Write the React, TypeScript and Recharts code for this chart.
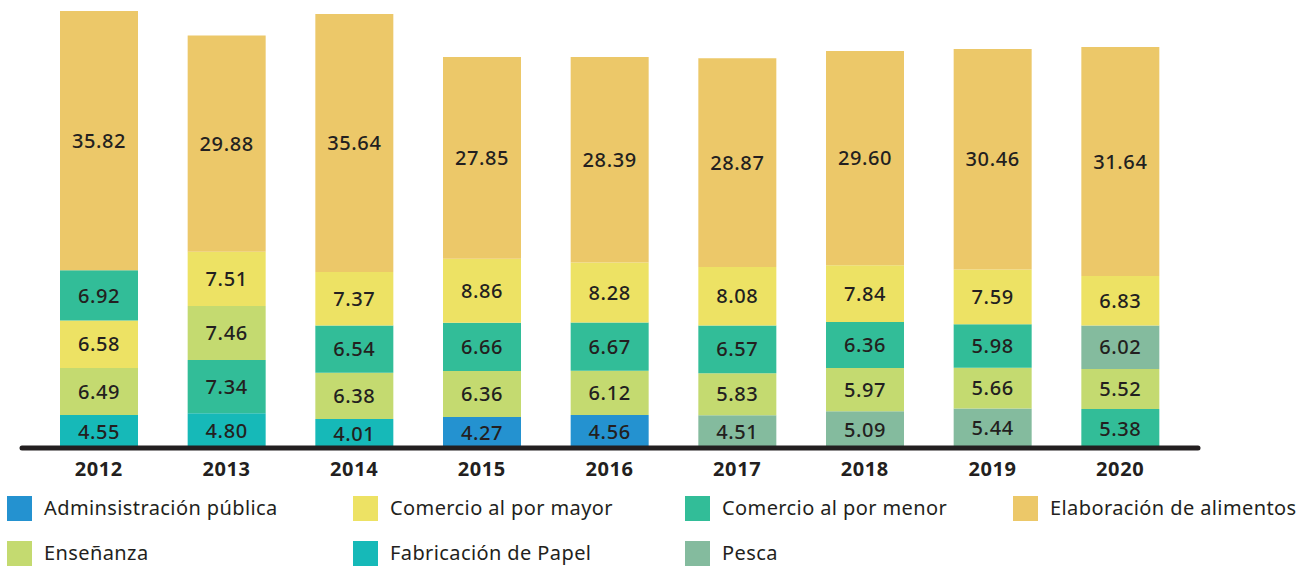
import { BarChart, Bar, XAxis, YAxis, Cell, LabelList } from 'recharts'

// Participación por sector, 2012-2020. Elaboración de alimentos siempre arriba;
// el orden de las capas inferiores cambia de un año a otro.

const years = ['2012', '2013', '2014', '2015', '2016', '2017', '2018', '2019', '2020']

const elaboracionAlimentos = [35.82, 29.88, 35.64, 27.85, 28.39, 28.87, 29.6, 30.46, 31.64]
const comercioMayor = [6.58, 7.51, 7.37, 8.86, 8.28, 8.08, 7.84, 7.59, 6.83]
const comercioMenor = [6.92, 7.34, 6.54, 6.66, 6.67, 6.57, 6.36, 5.98, 5.38]
const ensenanza = [6.49, 7.46, 6.38, 6.36, 6.12, 5.83, 5.97, 5.66, 5.52]
const fabricacionPapel = [4.55, 4.8, 4.01, null, null, null, null, null, null]
const adminPublica = [null, null, null, 4.27, 4.56, null, null, null, null]
const pesca = [null, null, null, null, null, 4.51, 5.09, 5.44, 6.02]

// bottom -> top for each year
const stackOrder = [
  ['papel', 'ensenanza', 'mayor', 'menor', 'elaboracion'],
  ['papel', 'menor', 'ensenanza', 'mayor', 'elaboracion'],
  ['papel', 'ensenanza', 'menor', 'mayor', 'elaboracion'],
  ['admin', 'ensenanza', 'menor', 'mayor', 'elaboracion'],
  ['admin', 'ensenanza', 'menor', 'mayor', 'elaboracion'],
  ['pesca', 'ensenanza', 'menor', 'mayor', 'elaboracion'],
  ['pesca', 'ensenanza', 'menor', 'mayor', 'elaboracion'],
  ['pesca', 'ensenanza', 'menor', 'mayor', 'elaboracion'],
  ['menor', 'ensenanza', 'pesca', 'mayor', 'elaboracion'],
]

const sectors: Record<string, { name: string; color: string; values: (number | null)[] }> = {
  admin: { name: 'Adminsistración pública', color: '#2492d0', values: adminPublica },
  mayor: { name: 'Comercio al por mayor', color: '#ede264', values: comercioMayor },
  menor: { name: 'Comercio al por menor', color: '#32bd98', values: comercioMenor },
  elaboracion: { name: 'Elaboración de alimentos', color: '#ecc869', values: elaboracionAlimentos },
  ensenanza: { name: 'Enseñanza', color: '#c4da70', values: ensenanza },
  papel: { name: 'Fabricación de Papel', color: '#16b9b8', values: fabricacionPapel },
  pesca: { name: 'Pesca', color: '#84bb9e', values: pesca },
}
const legendOrder = ['admin', 'mayor', 'menor', 'elaboracion', 'ensenanza', 'papel', 'pesca']

const levels = [0, 1, 2, 3, 4]
const data = years.map((year, i) => {
  const row: Record<string, any> = { year }
  stackOrder[i].forEach((key, lvl) => {
    row['l' + lvl] = sectors[key].values[i]
    row['c' + lvl] = sectors[key].color
  })
  return row
})

const FONT = "'Noto Sans', sans-serif"
const INK = '#231f20'

const legendCols = [7, 353, 685, 1013]
const legendRows = [496, 541]

export default function App() {
  return (
    <div style={{ position: 'absolute', left: 0, top: 0, width: 1305, height: 566, background: '#fff', overflow: 'hidden', fontFamily: FONT }}>
      <BarChart width={1305} height={495} data={data} margin={{ top: 5, right: 107, bottom: 0, left: 22 }}>
        <YAxis hide domain={[0, 61.2]} />
        {levels.map(lvl => (
          <Bar key={lvl} dataKey={'l' + lvl} stackId="s" barSize={78} isAnimationActive={false}>
            {data.map((d, i) => <Cell key={i} fill={d['c' + lvl]} />)}
            <LabelList
              dataKey={'l' + lvl}
              position="center"
              formatter={(v: any) => (v == null ? '' : Number(v).toFixed(2))}
              style={{ fill: INK, fontSize: 20, fontWeight: 500, letterSpacing: 0.6, fontFamily: FONT }}
            />
          </Bar>
        ))}
        <XAxis
          dataKey="year"
          height={47}
          padding={{ left: 13, right: 14 }}
          axisLine={{ stroke: INK, strokeWidth: 5, strokeLinecap: 'round' }}
          tickLine={false}
          tickMargin={8}
          tick={{ fill: INK, fontSize: 20, fontWeight: 700, letterSpacing: 0.6, fontFamily: FONT }}
        />
      </BarChart>
      {legendOrder.map((key, i) => {
        const x = legendCols[i % 4]
        const y = legendRows[Math.floor(i / 4)]
        return (
          <div key={key} style={{ position: 'absolute', left: x, top: y, display: 'flex', alignItems: 'center', height: 25 }}>
            <div style={{ width: 25, height: 25, background: sectors[key].color }} />
            <span style={{ marginLeft: 12, fontSize: 20, letterSpacing: 0.4, color: INK, whiteSpace: 'nowrap', lineHeight: '25px', marginTop: -3 }}>
              {sectors[key].name}
            </span>
          </div>
        )
      })}
    </div>
  )
}
